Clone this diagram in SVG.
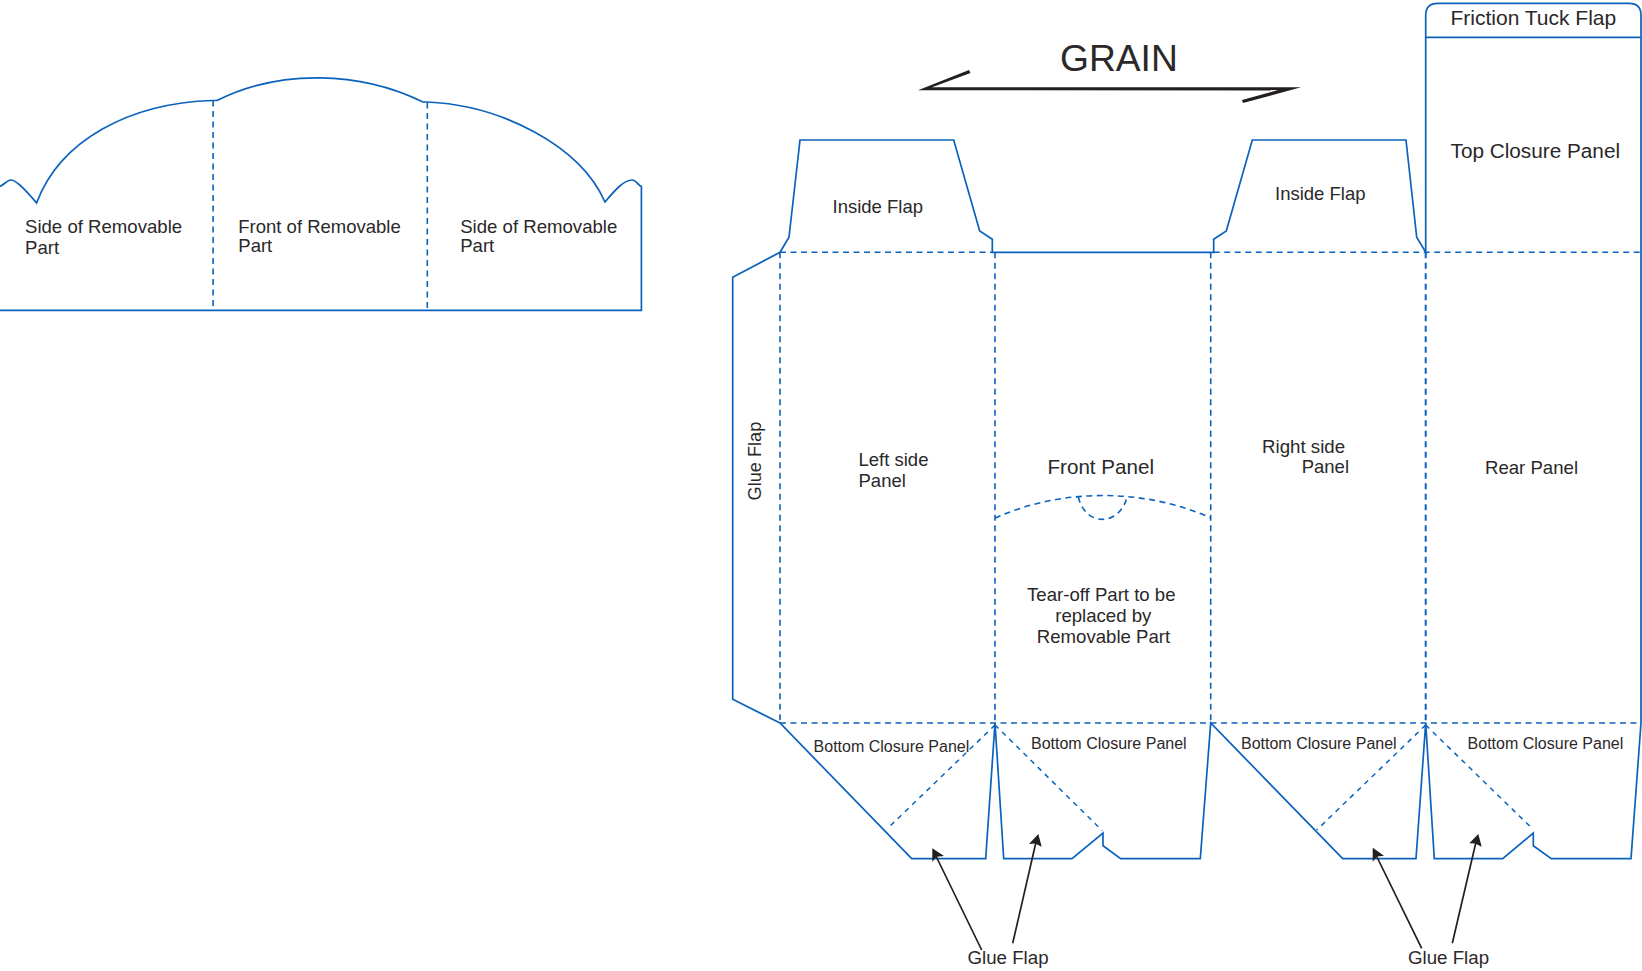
<svg xmlns="http://www.w3.org/2000/svg" width="1642" height="971" viewBox="0 0 1642 971">
<style>
.cut{fill:none;stroke:#0b62bd;stroke-width:1.7;stroke-linejoin:miter}
.fold{fill:none;stroke:#0b62bd;stroke-width:1.6;stroke-dasharray:6 4.5}
.diag{fill:none;stroke:#0b62bd;stroke-width:1.5;stroke-dasharray:5 5}
.lead{fill:none;stroke:#231f20;stroke-width:1.7}
.head{fill:#231f20;stroke:none}
text{font-family:"Liberation Sans",Arial,sans-serif;fill:#2b2829;font-size:18.5px}
.s16{font-size:16px}.s20{font-size:20.6px}
</style>
<rect width="1642" height="971" fill="#fff"/>
<g id="removable-part">
<path class="cut" d="M0 186.4 C4 185 7 180 11 180 C17 180 28 193 36.6 203 C60 140 130 103 212.6 100.5 L217 100.5 C280 69 360 71 423 102 L427 102 C500 105 580 145 605 202 C615 190 624 180 632 180 C637 180 638 186 641.4 186.4 L641.4 310.4 L0 310.4"/>
<path class="fold" d="M213.1 100.5V310M427.3 102.6V310"/>
<text x="25" y="232.5" style="font-size:18.6px">Side of Removable</text>
<text x="25" y="253.5" style="font-size:18.6px">Part</text>
<text x="238.3" y="232.5" style="font-size:18.5px">Front of Removable</text>
<text x="238.3" y="252" style="font-size:18.5px">Part</text>
<text x="460.2" y="232.5" style="font-size:18.6px">Side of Removable</text>
<text x="460.2" y="252" style="font-size:18.6px">Part</text>
</g>
<g id="grain">
<path class="head" d="M918 90.2L969 70L970.5 73L932 87.3L1290 87.3L1301 87.3L1243 103L1242 100L1278 90Z"/>
<text x="1060" y="70.7" style="font-size:37.2px">GRAIN</text>
</g>
<g id="carton-outline">
<path class="cut" d="M780 723L732.7 699.3V277.3L780 252.3L789 237.3L800 140H953.7L979.7 231L992.3 239.3V252.3H1213.7V239.3L1226.3 231L1252.3 140H1406L1416.7 237.3L1425.7 252.3V15.3Q1425.7 3.3 1437.7 3.3H1629Q1641 3.3 1641 15.3V723L1631 858.6H1551.3L1533.3 845.7V833L1502.7 858.6H1434.3L1425.7 723L1416 858.6H1342.7L1210.7 723L1200.3 858.6H1120.7L1103 845.7V833L1072 858.6H1003.7L995 723L985.7 858.6H911.7Z"/>
<path class="cut" d="M1425.7 37.3H1641"/>
</g>
<g id="fold-lines">
<path class="fold" d="M780 252.3H992M1213.7 252.3H1641M780 723H1641M780 252.3V723M995 252.3V723M1210.7 252.3V723"/>
<path class="fold" style="stroke-width:2" d="M1425.7 252.3V723"/>
<path class="fold" d="M995 518.3C1060 488 1145 488 1210.7 518M1078.3 496.7C1085 527 1120 527 1127.3 496"/>
<path class="diag" d="M995 725L887.3 828.7M995 725L1102.3 830.7M1425.7 725L1316.7 830M1425.7 725L1532.7 829"/>
</g>
<g id="leaders">
<path class="lead" d="M981.7 950L935 854M1012.7 943.3L1036 842M1421.7 948.3L1375.5 854M1452.3 943.3L1476 842"/>
<path class="head" d="M932.3 848.3L944 856L936.7 856.7L932.3 861.7ZM1038.3 834L1041.7 846.7L1035 843.5L1029 844ZM1372.7 847.7L1384 855.7L1377 856.5L1372.7 861.7ZM1478.3 834L1481.7 846.7L1475 843.5L1469.3 843.3Z"/>
</g>
<g id="labels">
<text x="832.5" y="213.3">Inside Flap</text>
<text x="1275" y="200">Inside Flap</text>
<text x="1450.5" y="25" style="font-size:21px">Friction Tuck Flap</text>
<text x="1450.5" y="157.7" style="font-size:20.75px">Top Closure Panel</text>
<text x="858.5" y="466">Left side</text>
<text x="858.5" y="487">Panel</text>
<text x="1047.5" y="474" class="s20">Front Panel</text>
<text x="1262" y="453.4" style="font-size:18.7px">Right side</text>
<text x="1301.7" y="473.3">Panel</text>
<text x="1485" y="474.4" style="font-size:18.6px">Rear Panel</text>
<text transform="translate(761 500.5) rotate(-90)" style="font-size:18.2px">Glue Flap</text>
<text x="1101.3" y="601" text-anchor="middle" style="font-size:18.6px">Tear-off Part to be</text>
<text x="1103.3" y="621.7" text-anchor="middle" style="font-size:18.6px">replaced by</text>
<text x="1103.5" y="642.7" text-anchor="middle" style="font-size:18.6px">Removable Part</text>
<text x="813.6" y="751.7" class="s16">Bottom Closure Panel</text>
<text x="1031" y="749" class="s16">Bottom Closure Panel</text>
<text x="1241" y="749" class="s16">Bottom Closure Panel</text>
<text x="1467.6" y="749" class="s16">Bottom Closure Panel</text>
<text x="967.5" y="964" style="font-size:18.7px">Glue Flap</text>
<text x="1408" y="963.6" style="font-size:18.7px">Glue Flap</text>
</g>
</svg>
